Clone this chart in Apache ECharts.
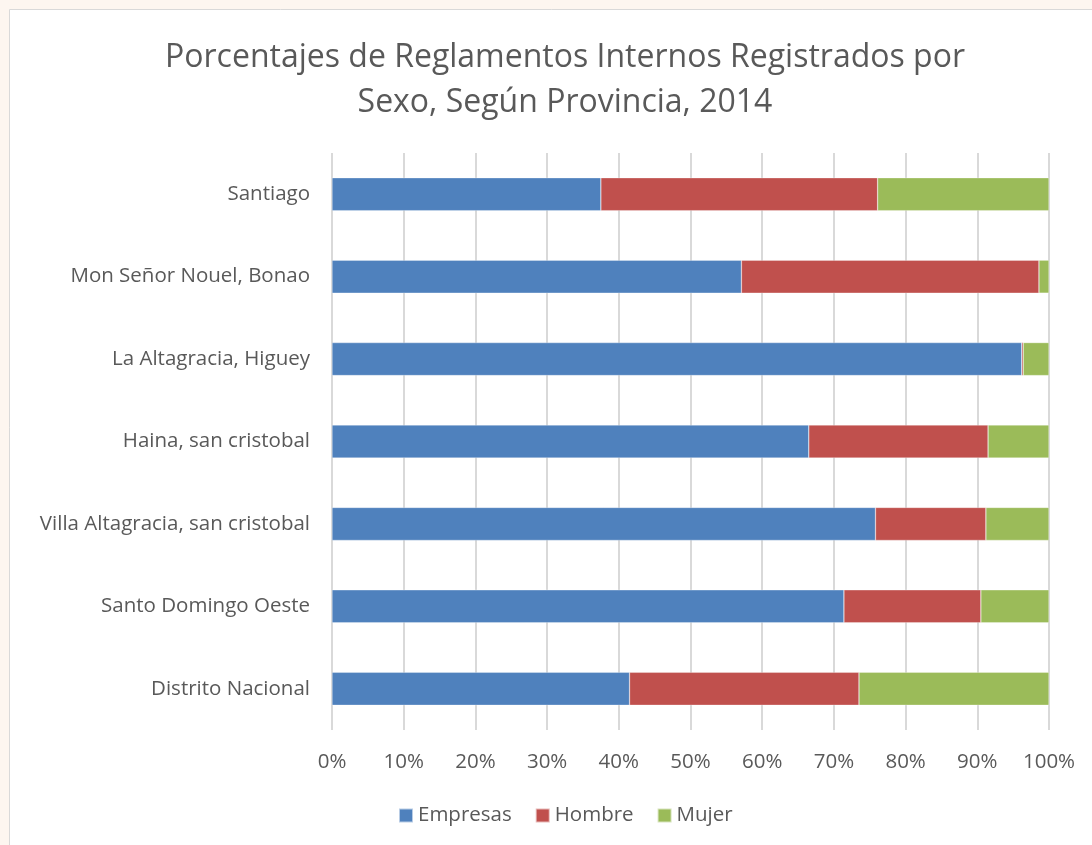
<!DOCTYPE html>
<html>
<head>
<meta charset="utf-8">
<script src="https://cdn.jsdelivr.net/npm/echarts@6/dist/echarts.min.js"></script>
<style>
  html, body { margin: 0; padding: 0; background: #fdf6f0; }
  #chart { width: 1092px; height: 845px; }
</style>
</head>
<body>
<div id="chart"></div>
<script>
// provinces, bottom to top as drawn by the category axis
const provincias = [
  'Distrito Nacional',
  'Santo Domingo Oeste',
  'Villa Altagracia, san cristobal',
  'Haina, san cristobal',
  'La Altagracia, Higuey',
  'Mon Señor Nouel, Bonao',
  'Santiago'
];
// percentages
const empresas = [41.5, 71.4, 75.8, 66.5, 96.2, 57.1, 37.5];
const hombre = [32.0, 19.1, 15.4, 25.0, 0.2, 41.5, 38.6];
const mujer = [26.5, 9.5, 8.8, 8.5, 3.6, 1.4, 23.9];

const font = '"Open Sans", sans-serif';
const textColor = '#595959';

const chart = echarts.init(document.getElementById('chart'));

const seriesStyle = (name, data, color) => ({
  name,
  type: 'bar',
  stack: 'total',
  data,
  barWidth: '40%',
  itemStyle: { color, borderColor: 'rgba(255,255,255,0.6)', borderWidth: 0.5 },
  emphasis: { disabled: true }
});

chart.setOption({
  animation: false,
  backgroundColor: 'transparent',
  graphic: [{
    type: 'rect',
    z: -10,
    shape: { x: 9.5, y: 9.5, width: 1100, height: 860 },
    style: { fill: '#ffffff', stroke: '#d9d9d9', lineWidth: 1 }
  }],
  title: {
    text: 'Porcentajes de Reglamentos Internos Registrados por\nSexo, Según Provincia, 2014',
    left: 560,
    top: 30,
    textAlign: 'center',
    textStyle: {
      fontFamily: font,
      fontSize: 32,
      fontWeight: 'normal',
      color: textColor,
      lineHeight: 45
    }
  },
  legend: {
    bottom: 14,
    left: 393,
    itemWidth: 14,
    itemHeight: 14,
    itemGap: 23,
    icon: 'rect',
    textStyle: { fontFamily: font, fontSize: 20.5, color: textColor }
  },
  grid: { left: 332, right: 43, top: 153, bottom: 115, containLabel: false },
  xAxis: {
    type: 'value',
    min: 0,
    max: 100,
    interval: 10,
    axisLine: { show: false },
    axisTick: { show: false },
    splitLine: { lineStyle: { color: '#d9d9d9', width: 2 } },
    axisLabel: {
      formatter: '{value}%',
      fontFamily: font,
      fontSize: 20.5,
      color: textColor,
      margin: 22
    }
  },
  yAxis: {
    type: 'category',
    data: provincias,
    axisLine: { show: false },
    axisTick: { show: false },
    axisLabel: {
      fontFamily: font,
      fontSize: 20.5,
      color: textColor,
      margin: 22
    }
  },
  series: [
    seriesStyle('Empresas', empresas, '#4f81bd'),
    seriesStyle('Hombre', hombre, '#c0504d'),
    seriesStyle('Mujer', mujer, '#9bbb59')
  ]
});
</script>
</body>
</html>
